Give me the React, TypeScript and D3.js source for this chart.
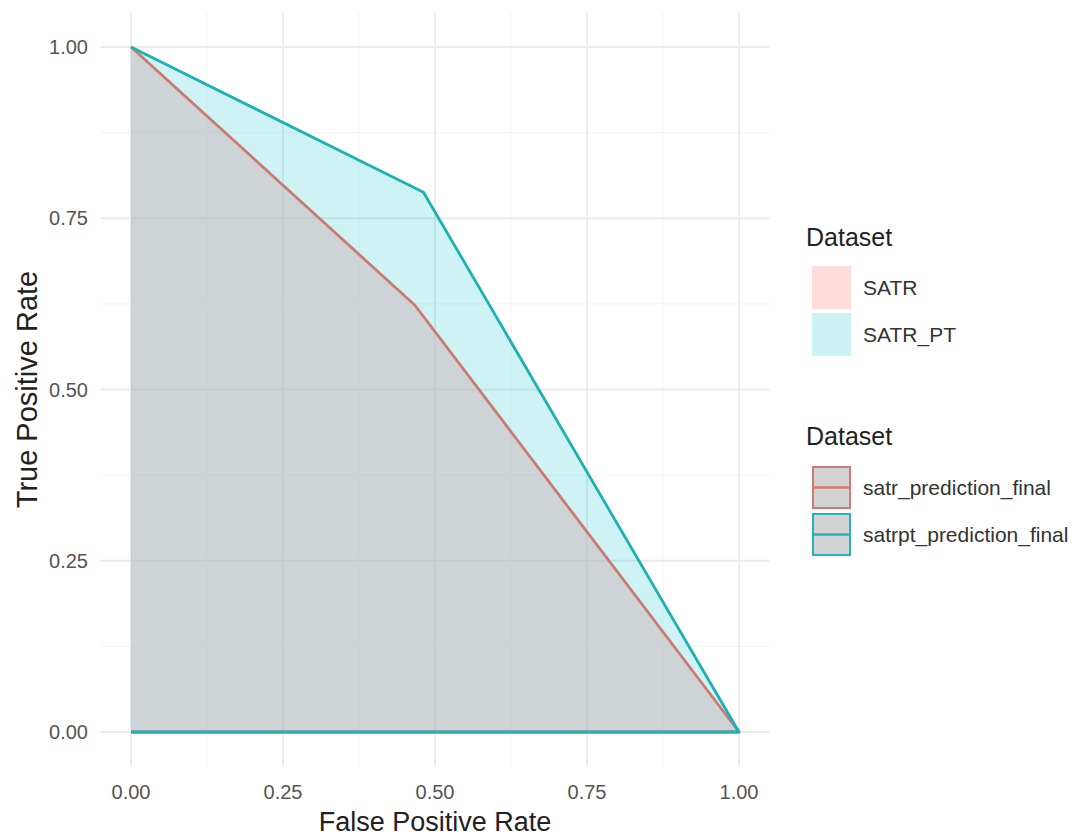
import React from "react";
import * as d3 from "d3";

// ROC-like curves
const satrFpr = [0, 0.467, 1, 0];
const satrTpr = [1, 0.623, 0, 0];
const satrptFpr = [0, 0.481, 1, 0];
const satrptTpr = [1, 0.788, 0, 0];

const majorTicks = [0, 0.25, 0.5, 0.75, 1];
const minorTicks = [0.125, 0.375, 0.625, 0.875];

const fillLabels = ["SATR", "SATR_PT"];
const colourLabels = ["satr_prediction_final", "satrpt_prediction_final"];

const W = 1083;
const H = 837;
const font = "'Liberation Sans', Arial, Helvetica, sans-serif";

const x = d3.scaleLinear().domain([0, 1]).range([131, 739]);
const y = d3.scaleLinear().domain([0, 1]).range([732, 47]);
// ggplot's 5% expansion
const [px0, px1] = [x(-0.05), x(1.05)];
const [py0, py1] = [y(1.05), y(-0.05)];

const toPts = (xs, ys) => xs.map((v, i) => [v, ys[i]] as [number, number]);
const line = d3
  .line<[number, number]>()
  .x((d) => x(d[0]))
  .y((d) => y(d[1]));

const fmt = d3.format(".2f");

export default function App() {
  const satr = toPts(satrFpr, satrTpr);
  const satrpt = toPts(satrptFpr, satrptTpr);

  return (
    <svg
      width={W}
      height={H}
      style={{ position: "absolute", left: 0, top: 0, background: "#fff" }}
      fontFamily={font}
    >
      {/* grid */}
      <g>
        {minorTicks.map((t) => (
          <g key={"m" + t}>
            <line x1={px0} x2={px1} y1={y(t)} y2={y(t)} stroke="#f4f4f4" strokeWidth={1} />
            <line x1={x(t)} x2={x(t)} y1={py0} y2={py1} stroke="#f4f4f4" strokeWidth={1} />
          </g>
        ))}
        {majorTicks.map((t) => (
          <g key={"M" + t}>
            <line x1={px0} x2={px1} y1={y(t)} y2={y(t)} stroke="#ebebeb" strokeWidth={1.8} />
            <line x1={x(t)} x2={x(t)} y1={py0} y2={py1} stroke="#ebebeb" strokeWidth={1.8} />
          </g>
        ))}
      </g>

      {/* areas */}
      <path d={line(satrpt) + "Z"} fill="#00BFC4" fillOpacity={0.19} />
      <path d={line(satr) + "Z"} fill="rgb(206,182,181)" fillOpacity={0.5} />

      {/* lines */}
      <path d={line(satr)} fill="none" stroke="#c97b73" strokeWidth={2.8} strokeLinejoin="round" />
      <path d={line(satrpt)} fill="none" stroke="#1fb0b5" strokeWidth={2.8} strokeLinejoin="round" />

      {/* axis labels */}
      {majorTicks.map((t) => (
        <text key={"xt" + t} x={x(t)} y={799} textAnchor="middle" fontSize={20} fill="#555">
          {fmt(t)}
        </text>
      ))}
      {majorTicks.map((t) => (
        <text key={"yt" + t} x={88} y={y(t)} dy="0.35em" textAnchor="end" fontSize={20} fill="#555">
          {fmt(t)}
        </text>
      ))}
      <text x={x(0.5)} y={831} textAnchor="middle" fontSize={27} fill="#222">
        False Positive Rate
      </text>
      <text
        transform={`translate(37,${y(0.5)}) rotate(-90)`}
        textAnchor="middle"
        fontSize={29}
        fill="#222"
      >
        True Positive Rate
      </text>

      {/* legend: fill */}
      <text x={806} y={246} fontSize={25} fill="#222">
        Dataset
      </text>
      {fillLabels.map((lab, i) => (
        <g key={lab} transform={`translate(812,${266 + i * 47})`}>
          <rect width={39} height={43} fill={i === 0 ? "#F8766D" : "#00BFC4"} fillOpacity={i === 0 ? 0.25 : 0.2} />
          <text x={51} y={21.5} dy="0.35em" fontSize={21} fill="#333">
            {lab}
          </text>
        </g>
      ))}

      {/* legend: colour */}
      <text x={806} y={445} fontSize={25} fill="#222">
        Dataset
      </text>
      {colourLabels.map((lab, i) => {
        const c = i === 0 ? "#d7766f" : "#27b3b8";
        return (
          <g key={lab} transform={`translate(812,${466 + i * 47})`}>
            <rect x={1} y={1} width={37} height={41} fill="#d2d4d4" stroke={c} strokeWidth={2} />
            <line x1={1} x2={38} y1={21.5} y2={21.5} stroke={c} strokeWidth={2.4} />
            <text x={51} y={21.5} dy="0.35em" fontSize={21} fill="#333">
              {lab}
            </text>
          </g>
        );
      })}
    </svg>
  );
}
